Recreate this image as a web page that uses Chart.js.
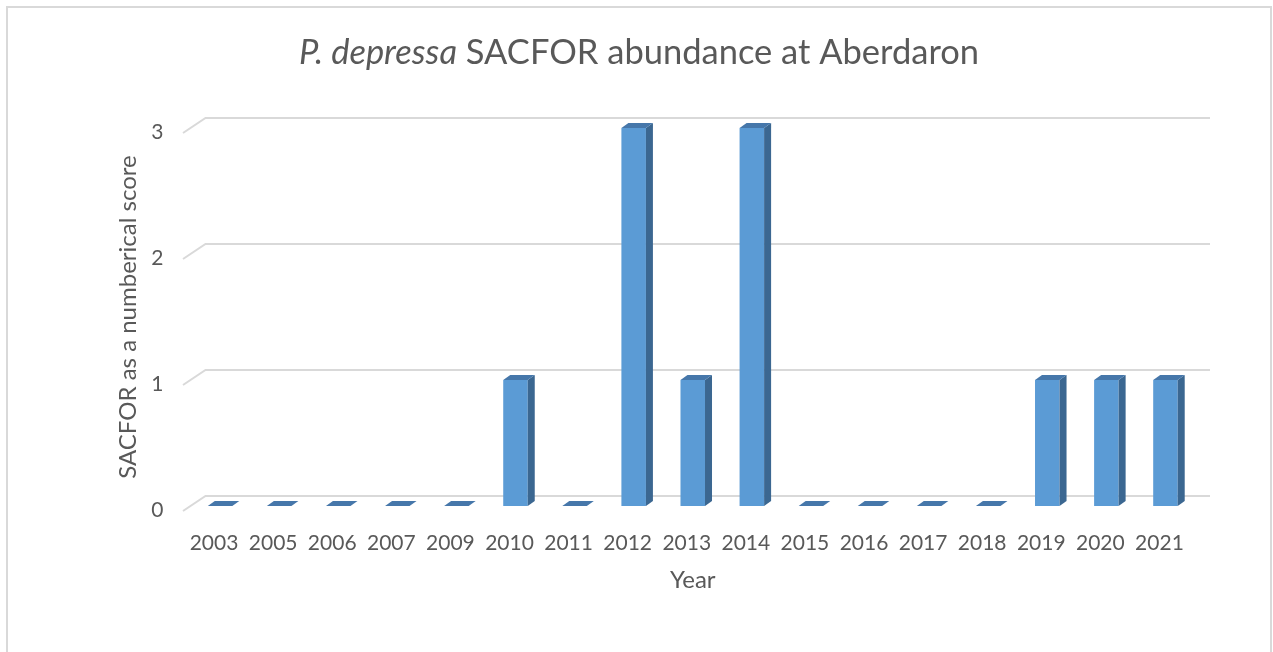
<!DOCTYPE html>
<html>
<head>
<meta charset="utf-8">
<script src="https://cdn.jsdelivr.net/npm/chart.js@4.4.1/dist/chart.umd.min.js"></script>
<style>
  html, body { margin: 0; padding: 0; background: #fff; }
  #wrap { position: absolute; left: 0; top: 0; width: 1273px; height: 652px; }
</style>
</head>
<body>
<div id="wrap"><canvas id="myChart" width="1273" height="652"></canvas></div>
<script>
// survey years and SACFOR scores
const years = ['2003', '2005', '2006', '2007', '2009', '2010', '2011', '2012', '2013',
  '2014', '2015', '2016', '2017', '2018', '2019', '2020', '2021']
const scores = [0, 0, 0, 0, 0, 1, 0, 3, 1, 3, 0, 0, 0, 0, 1, 1, 1]
const yTicks = [0, 1, 2, 3]

const titleItalic = 'P. depressa'
const titleRest = ' SACFOR abundance at Aberdaron'
const textColor = '#595959'
const fontFamily = 'Lato, "Open Sans", sans-serif'

// pseudo 3D offsets (bar plane -> back wall / front edge)
const back = { dx: 15, dy: -10 }
const front = { dx: -7.5, dy: 5 }
const barDepth = { dx: 7, dy: 5 }

/////////////////////////////////
// plugins
/////////////////////////////////
const frame = {
  id: 'frame',
  beforeDraw(chart) {
    const c = chart.ctx
    c.save()
    c.fillStyle = '#fff'
    c.fillRect(0, 0, chart.width, chart.height)
    c.strokeStyle = '#D9D9D9'
    c.lineWidth = 2
    c.strokeRect(7, 7, 1264, 700)
    c.restore()
  }
}

// back wall gridlines with the short diagonal at the left side
const wall = {
  id: 'wall',
  beforeDatasetsDraw(chart) {
    const c = chart.ctx
    const { left, right } = chart.chartArea
    const yScale = chart.scales.y
    c.save()
    c.strokeStyle = '#D9D9D9'
    c.lineWidth = 2
    yTicks.forEach(v => {
      const y = yScale.getPixelForValue(v)
      c.beginPath()
      c.moveTo(left + front.dx, y + front.dy)
      c.lineTo(left + back.dx, y + back.dy)
      c.lineTo(right + back.dx, y + back.dy)
      c.stroke()
    })
    c.restore()
  }
}

// side + top faces of each bar
const depth = {
  id: 'depth',
  afterDatasetsDraw(chart) {
    const c = chart.ctx
    const meta = chart.getDatasetMeta(0)
    c.save()
    meta.data.forEach(bar => {
      const { x, y, base, width } = bar.getProps(['x', 'y', 'base', 'width'], true)
      const l = x - width / 2
      const r = x + width / 2
      // side
      if (base - y > 0.5) {
        c.fillStyle = '#3B6791'
        c.beginPath()
        c.moveTo(r, y)
        c.lineTo(r + barDepth.dx, y - barDepth.dy)
        c.lineTo(r + barDepth.dx, base - barDepth.dy)
        c.lineTo(r, base)
        c.closePath()
        c.fill()
      }
      // top
      c.fillStyle = '#4677AA'
      c.beginPath()
      c.moveTo(l, y)
      c.lineTo(l + barDepth.dx, y - barDepth.dy)
      c.lineTo(r + barDepth.dx, y - barDepth.dy)
      c.lineTo(r, y)
      c.closePath()
      c.fill()
    })
    c.restore()
  }
}

// title with italic species name
const mixedTitle = {
  id: 'mixedTitle',
  afterDraw(chart) {
    const c = chart.ctx
    c.save()
    c.fillStyle = textColor
    c.textBaseline = 'alphabetic'
    const italicFont = `italic 34.5px ${fontFamily}`
    const normalFont = `34.5px ${fontFamily}`
    c.font = italicFont
    const w1 = c.measureText(titleItalic).width
    c.font = normalFont
    const w2 = c.measureText(titleRest).width
    let x = 639 - (w1 + w2) / 2
    c.font = italicFont
    c.fillText(titleItalic, x, 64)
    c.font = normalFont
    c.fillText(titleRest, x + w1, 64)
    c.restore()
  }
}

/////////////////////////////////
// chart
/////////////////////////////////
const ctx = document.getElementById('myChart')

new Chart(ctx, {
  type: 'bar',
  data: {
    labels: years,
    datasets: [{
      label: 'SACFOR',
      data: scores,
      backgroundColor: '#5B9BD5',
      borderWidth: 0,
      barPercentage: 0.415,
      categoryPercentage: 1
    }]
  },
  options: {
    responsive: false,
    animation: false,
    events: [],
    layout: {
      padding: { top: 128, right: 78, bottom: 46, left: 0 }
    },
    plugins: {
      legend: { display: false },
      tooltip: { enabled: false },
      title: { display: false }
    },
    scales: {
      x: {
        grid: { display: false, drawTicks: false },
        border: { display: false },
        ticks: {
          color: textColor,
          font: { family: fontFamily, size: 21 },
          padding: 25,
          labelOffset: -6,
          maxRotation: 0,
          autoSkip: false
        },
        title: {
          display: true,
          text: 'Year',
          color: textColor,
          font: { family: fontFamily, size: 24 },
          padding: { top: 0, bottom: 11 }
        },
        afterFit(scale) { scale.height = 100 }
      },
      y: {
        min: 0,
        max: 3,
        grid: { display: false, drawTicks: false },
        border: { display: false },
        ticks: {
          color: textColor,
          font: { family: fontFamily, size: 21 },
          stepSize: 1,
          padding: 27,
          labelOffset: 4
        },
        title: {
          display: true,
          text: 'SACFOR as a numberical score',
          color: textColor,
          font: { family: fontFamily, size: 24 },
          padding: { top: 114, bottom: 0 }
        },
        afterFit(scale) { scale.width = 190.5 }
      }
    }
  },
  plugins: [frame, wall, depth, mixedTitle]
})
</script>
</body>
</html>
